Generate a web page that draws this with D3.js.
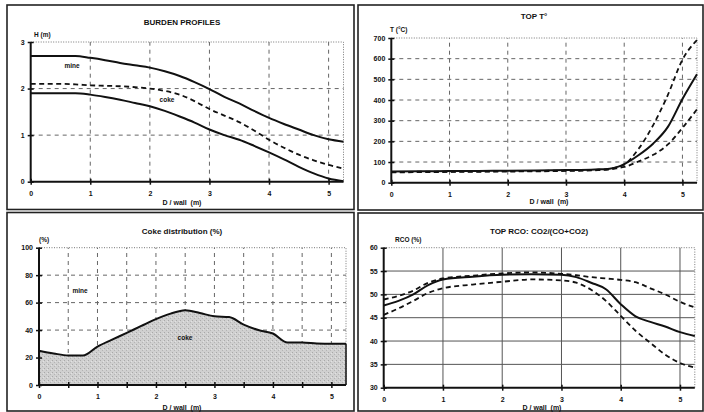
<!DOCTYPE html>
<html>
<head>
<meta charset="utf-8">
<script src="https://cdn.jsdelivr.net/npm/d3@7"></script>
<style>
  body { margin: 0; background: #fff; }
  svg text { font-family: "Liberation Sans", Arial, sans-serif; font-weight: bold; fill: #111; }
</style>
</head>
<body>
<div id="chart"></div>
<script>
var svgWidth = 704;
var svgHeight = 412;

// burden profiles (H in m vs D / wall)
var burdenX = [0, 0.25, 0.5, 0.75, 1, 1.25, 1.5, 1.75, 2, 2.25, 2.5, 2.75, 3, 3.25, 3.5, 3.75, 4, 4.25, 4.5, 4.75, 5, 5.25];
var mineTop = [2.7, 2.7, 2.7, 2.7, 2.66, 2.61, 2.55, 2.5, 2.45, 2.37, 2.27, 2.14, 1.99, 1.82, 1.68, 1.52, 1.37, 1.24, 1.12, 1.0, 0.91, 0.86];
var cokeTop = [2.1, 2.1, 2.1, 2.09, 2.07, 2.06, 2.05, 2.03, 2.0, 1.95, 1.87, 1.73, 1.56, 1.42, 1.28, 1.1, 0.9, 0.73, 0.58, 0.46, 0.36, 0.28];
var cokeBottom = [1.9, 1.9, 1.9, 1.9, 1.87, 1.82, 1.76, 1.69, 1.62, 1.52, 1.4, 1.27, 1.12, 1.0, 0.9, 0.77, 0.63, 0.48, 0.32, 0.18, 0.07, 0.01];

// top temperature
var tempX = [0, 0.5, 1, 1.5, 2, 2.5, 3, 3.5, 3.75, 3.9, 4, 4.25, 4.5, 4.75, 5, 5.25];
var tempMid = [54, 55, 56, 57, 58, 59, 61, 64, 68, 78, 90, 134, 190, 270, 405, 525];
var tempHigh = [52, 53, 54, 55, 56, 57, 59, 62, 67, 76, 88, 165, 280, 425, 595, 690];
var tempLow = [50, 51, 52, 53, 54, 55, 57, 60, 64, 71, 76, 103, 135, 185, 265, 355];

// coke distribution
var cokeX = [0, 0.25, 0.5, 0.75, 1, 1.25, 1.5, 1.75, 2, 2.25, 2.5, 2.75, 3, 3.25, 3.5, 3.75, 4, 4.25, 4.5, 4.75, 5, 5.25];
var cokePct = [25, 23, 21.5, 21.5, 28, 33, 38, 43, 48, 52, 54.5, 52.5, 50, 49.5, 44, 40, 37.5, 31, 31, 30.3, 30, 30];

// top RCO
var rcoX = [0, 0.25, 0.5, 0.75, 1, 1.5, 2, 2.5, 3, 3.25, 3.5, 3.75, 4, 4.25, 4.5, 4.75, 5, 5.25];
var rcoMid = [47.6, 48.6, 50.0, 52.0, 53.2, 53.8, 54.2, 54.3, 54.2, 53.7, 52.5, 51.1, 47.9, 45.3, 44.1, 43.1, 41.9, 41.1];
var rcoHigh = [48.9, 49.7, 50.8, 52.5, 53.4, 54.0, 54.5, 54.7, 54.4, 54.1, 53.7, 53.4, 53.1, 52.6, 51.3, 50.0, 48.4, 47.2];
var rcoLow = [45.6, 47.0, 48.6, 50.3, 51.3, 52.1, 52.7, 53.2, 53.0, 52.5, 51.0, 48.6, 45.4, 42.2, 39.6, 37.1, 35.3, 34.3];

var xInt = [0, 1, 2, 3, 4, 5];
var xHalf = [0, 0.5, 1, 1.5, 2, 2.5, 3, 3.5, 4, 4.5, 5];
var hTicks = [0, 1, 2, 3];
var tTicks = [0, 100, 200, 300, 400, 500, 600, 700];
var pctTicks = [0, 20, 40, 60, 80, 100];
var rcoTicks = [30, 35, 40, 45, 50, 55, 60];

var svg = d3.select("#chart")
    .append("svg")
    .attr("width", svgWidth)
    .attr("height", svgHeight);

// stippled grey for the coke area
var pat = svg.append("defs").append("pattern")
    .attr("id", "stipple")
    .attr("width", 4).attr("height", 4)
    .attr("patternUnits", "userSpaceOnUse");
pat.append("rect").attr("width", 4).attr("height", 4).attr("fill", "#d0d0d0");
pat.append("rect").attr("x", 0).attr("y", 0).attr("width", 1).attr("height", 1).attr("fill", "#a8a8a8");
pat.append("rect").attr("x", 2).attr("y", 2).attr("width", 1).attr("height", 1).attr("fill", "#b4b4b4");
pat.append("rect").attr("x", 3).attr("y", 1).attr("width", 1).attr("height", 1).attr("fill", "#e2e2e2");

// panel frames
var frames = [[7, 5, 354, 209.5], [358, 5, 703, 210], [7, 212.5, 354, 411], [358, 213, 703, 411]];
svg.selectAll("rect.frame")
    .data(frames)
    .enter()
    .append("rect")
    .attr("x", d => d[0])
    .attr("y", d => d[1])
    .attr("width", d => d[2] - d[0])
    .attr("height", d => d[3] - d[1])
    .attr("fill", "none")
    .attr("stroke", "#222")
    .attr("stroke-width", 1.6);

function drawPanel(p) {
    var x = d3.scaleLinear().domain([0, 5.25]).range(p.xr);
    var y = d3.scaleLinear().domain(p.ydom).range(p.yr);
    var g = svg.append("g");

    // grid
    var gridStyle = p.solidGrid
        ? { stroke: "#555", width: 1, dash: null }
        : { stroke: "#666", width: 1, dash: "4,4" };
    g.selectAll("line.gx")
        .data(p.gridX)
        .enter()
        .append("line")
        .attr("x1", d => x(d)).attr("x2", d => x(d))
        .attr("y1", p.yr[0]).attr("y2", p.yr[1])
        .attr("stroke", gridStyle.stroke)
        .attr("stroke-width", gridStyle.width)
        .attr("stroke-dasharray", gridStyle.dash);
    g.selectAll("line.gy")
        .data(p.gridY)
        .enter()
        .append("line")
        .attr("x1", p.xr[0]).attr("x2", p.xr[1])
        .attr("y1", d => y(d)).attr("y2", d => y(d))
        .attr("stroke", gridStyle.stroke)
        .attr("stroke-width", gridStyle.width)
        .attr("stroke-dasharray", gridStyle.dash);

    // dotted top / right border
    g.append("path")
        .attr("d", `M${p.xr[0]},${p.yr[1]}H${p.xr[1]}V${p.yr[0]}`)
        .attr("fill", "none")
        .attr("stroke", "#777")
        .attr("stroke-width", 1)
        .attr("stroke-dasharray", "1,1.5");

    return { x: x, y: y, g: g };
}

function drawAxes(pp, p) {
    var bottomAxis = d3.axisBottom(pp.x).tickValues(p.xticks).tickSize(3)
        .tickFormat(d => Number.isInteger(d) ? d : "");
    var leftAxis = d3.axisLeft(pp.y).tickValues(p.yticks).tickSize(3).tickFormat(d3.format("d"));

    var xa = pp.g.append("g")
        .attr("transform", `translate(0,${p.yr[0]})`)
        .call(bottomAxis);
    var ya = pp.g.append("g")
        .attr("transform", `translate(${p.xr[0]},0)`)
        .call(leftAxis);

    xa.select(".domain").attr("d", `M${p.xr[0]},0H${p.xr[1]}`).attr("stroke", "#111").attr("stroke-width", 2);
    ya.select(".domain").attr("d", `M0,${p.yr[0]}V${p.yr[1]}`).attr("stroke", "#111").attr("stroke-width", 2);
    xa.selectAll(".tick line").attr("y1", -3).attr("y2", 3).attr("stroke", "#111").attr("stroke-width", 1.5);
    ya.selectAll(".tick line").attr("x1", -3).attr("x2", 3).attr("stroke", "#111").attr("stroke-width", 1.5);
    xa.selectAll(".tick text").attr("y", 9).style("font-size", "7px").attr("font-family", null).attr("font-size", null);
    ya.selectAll(".tick text").attr("x", -6).style("font-size", "7px").attr("font-family", null).attr("font-size", null);
    pp.g.selectAll(".tick text").attr("fill", "#111");

    // titles
    pp.g.append("text").attr("x", p.title[1]).attr("y", p.title[2])
        .attr("text-anchor", "middle").style("font-size", "8px").text(p.title[0]);
    pp.g.append("text").attr("x", p.ylab[1]).attr("y", p.ylab[2])
        .style("font-size", "6.5px").text(p.ylab[0]);
    pp.g.append("text").attr("x", p.xlab[0]).attr("y", p.xlab[1])
        .attr("text-anchor", "middle").style("font-size", "7px").attr("xml:space", "preserve").text("D / wall  (m)");
}

function drawLine(pp, xs, ys, dashed, curve) {
    var line = d3.line()
        .x((d, i) => pp.x(xs[i]))
        .y(d => pp.y(d))
        .curve(curve || d3.curveMonotoneX);
    pp.g.append("path")
        .datum(ys)
        .attr("d", line)
        .attr("fill", "none")
        .attr("stroke", "#111")
        .attr("stroke-width", dashed ? 1.8 : 2)
        .attr("stroke-dasharray", dashed ? "5,3.5" : null);
}

// ---- panel 1: burden profiles
var p1 = { xr: [30.7, 343.5], yr: [181.7, 42], ydom: [0, 3], gridX: [1, 2, 3, 4, 5], gridY: [1, 2],
    xticks: xInt, yticks: hTicks, title: ["BURDEN PROFILES", 182, 25], ylab: ["H (m)", 34, 37], xlab: [182, 205] };
var pp1 = drawPanel(p1);
drawLine(pp1, burdenX, mineTop, false);
drawLine(pp1, burdenX, cokeTop, true);
drawLine(pp1, burdenX, cokeBottom, false);
drawAxes(pp1, p1);
pp1.g.append("text").attr("x", 72).attr("y", 68).attr("text-anchor", "middle").style("font-size", "6.5px").text("mine");
pp1.g.append("text").attr("x", 167).attr("y", 102).attr("text-anchor", "middle").style("font-size", "6.5px").text("coke");

// ---- panel 2: top temperature
var p2 = { xr: [391.3, 697], yr: [182.7, 38], ydom: [0, 700], gridX: [1, 2, 3, 4, 5], gridY: [100, 200, 300, 400, 500, 600],
    xticks: xInt, yticks: tTicks, title: ["TOP T°", 534, 19], ylab: ["T (°C)", 390, 32], xlab: [549, 204] };
var pp2 = drawPanel(p2);
drawLine(pp2, tempX, tempHigh, true);
drawLine(pp2, tempX, tempLow, true);
drawLine(pp2, tempX, tempMid, false);
drawAxes(pp2, p2);

// ---- panel 3: coke distribution
var p3 = { xr: [39, 346], yr: [385, 247.7], ydom: [0, 100], gridX: [0.5, 1, 1.5, 2, 2.5, 3, 3.5, 4, 4.5, 5], gridY: [20, 40, 60, 80],
    xticks: xHalf, yticks: pctTicks, title: ["Coke distribution (%)", 182, 234], ylab: ["(%)", 39, 242], xlab: [182, 410] };
var pp3 = drawPanel(p3);
var area = d3.area()
    .x((d, i) => pp3.x(cokeX[i]))
    .y0(pp3.y(0))
    .y1(d => pp3.y(d))
    .curve(d3.curveMonotoneX);
pp3.g.append("path")
    .datum(cokePct)
    .attr("d", area)
    .attr("fill", "url(#stipple)");
drawLine(pp3, cokeX, cokePct, false);
pp3.g.append("line")
    .attr("x1", pp3.x(5.25)).attr("x2", pp3.x(5.25))
    .attr("y1", pp3.y(cokePct[cokePct.length - 1])).attr("y2", pp3.y(0))
    .attr("stroke", "#111").attr("stroke-width", 1.5);
drawAxes(pp3, p3);
pp3.g.append("text").attr("x", 80).attr("y", 293).attr("text-anchor", "middle").style("font-size", "6.5px").text("mine");
pp3.g.append("text").attr("x", 185).attr("y", 340).attr("text-anchor", "middle").style("font-size", "6.5px").text("coke");

// ---- panel 4: top RCO
var p4 = { xr: [383.7, 694.8], yr: [387.7, 247.7], ydom: [30, 60], gridX: [1, 2, 3, 4, 5], gridY: [35, 40, 45, 50, 55],
    xticks: xInt, yticks: rcoTicks, title: ["TOP RCO: CO2/(CO+CO2)", 539, 234], ylab: ["RCO (%)", 395, 242], xlab: [542, 410], solidGrid: true };
var pp4 = drawPanel(p4);
drawLine(pp4, rcoX, rcoHigh, true);
drawLine(pp4, rcoX, rcoLow, true);
drawLine(pp4, rcoX, rcoMid, false);
drawAxes(pp4, p4);
</script>
</body>
</html>
